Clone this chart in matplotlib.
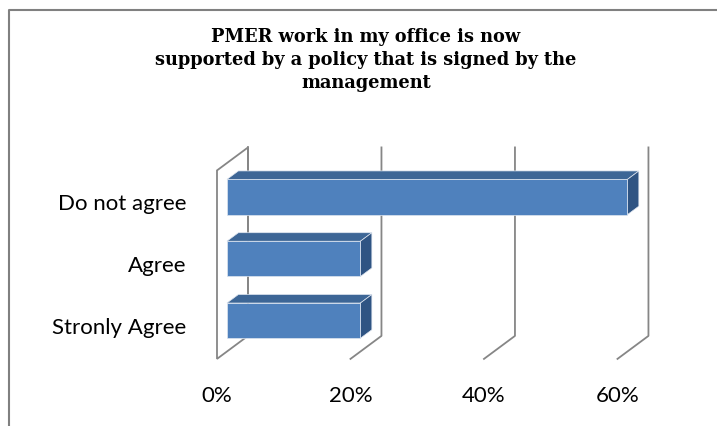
import numpy as np
import matplotlib
matplotlib.use("Agg")
from matplotlib import pyplot as plt
from matplotlib.lines import Line2D

# data
categories = ['Stronly Agree', 'Agree', 'Do not agree']
values = [0.20, 0.20, 0.60]
ticks = [0.0, 0.2, 0.4, 0.6]
tick_labels = ['0%', '20%', '40%', '60%']
title = 'PMER work in my office is now\nsupported by a policy that is signed by the\nmanagement'

# 3d look (depth offsets in data units)
DX = 0.0464
DY = 0.372
TOP = 2.55
BOT = -0.5
BAR_H = 0.57
D0, D1 = 0.32, 0.69

FRONT = '#4F81BD'
TOPC = '#3D6696'
SIDE = '#2F5483'
GRID = '#868686'


def proj(v, c, d):
	return v + d * DX, c + d * DY


def main():
	fig = plt.figure(figsize=(7.17, 4.27), dpi=100)
	ax = fig.add_axes([0, 0, 1, 1])
	ax.set_xlim(-0.3251, 0.7491)
	ax.set_ylim(-1.586, 5.324)
	ax.axis('off')

	lw = 1.3
	# left wall outline
	pts = [proj(0, BOT, 1), proj(0, BOT, 0), proj(0, TOP, 0), proj(0, TOP, 1), proj(0, BOT, 1)]
	ax.plot([p[0] for p in pts], [p[1] for p in pts], color=GRID, lw=lw, zorder=1,
			solid_joinstyle='miter')

	# back wall gridlines + floor lines
	for t, lab in zip(ticks, tick_labels):
		a = proj(t, BOT, 0)
		b = proj(t, BOT, 1)
		c = proj(t, TOP, 1)
		if t == 0:
			ax.plot([b[0], c[0]], [b[1], c[1]], color=GRID, lw=lw, zorder=1)
		else:
			ax.plot([a[0], b[0], c[0]], [a[1], b[1], c[1]], color=GRID, lw=lw, zorder=1)
		ax.text(a[0], a[1] - 0.58, lab, ha='center', va='center', fontsize=16, family='Lato')

	# bars
	for i, v in enumerate(values):
		lo, hi = i - BAR_H / 2, i + BAR_H / 2
		front = [proj(0, lo, D0), proj(v, lo, D0), proj(v, hi, D0), proj(0, hi, D0)]
		top = [proj(0, hi, D0), proj(v, hi, D0), proj(v, hi, D1), proj(0, hi, D1)]
		side = [proj(v, lo, D0), proj(v, lo, D1), proj(v, hi, D1), proj(v, hi, D0)]
		for poly, col in [(top, TOPC), (side, SIDE), (front, FRONT)]:
			ax.fill([p[0] for p in poly], [p[1] for p in poly], color=col, ec='#dfe6f0',
					lw=0.5, zorder=3)

	# category labels
	for i, name in enumerate(categories):
		ax.text(-0.046, i + 0.02, name, ha='right', va='center', fontsize=16, family='Lato')

	fig.text(366 / 717, 1 - 60 / 427, title, ha='center', va='center', fontsize=12.8,
			 fontweight='bold', family='DejaVu Serif', linespacing=1.33)

	# chart border
	fig.add_artist(Line2D([9 / 717, 9 / 717, 1], [0, 1 - 10.5 / 427, 1 - 10.5 / 427],
						  transform=fig.transFigure, color='#808080', lw=1.5))

	fig.savefig('out.png', dpi=100)


if __name__ == "__main__":
	main()
